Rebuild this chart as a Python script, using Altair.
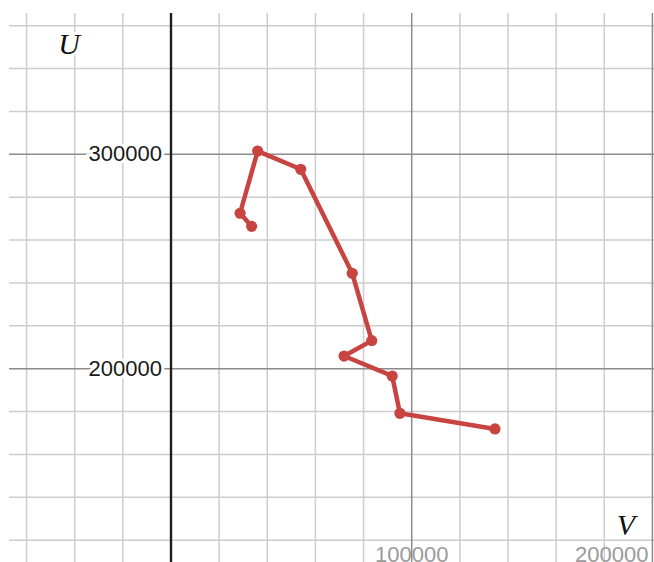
import altair as alt
import pandas as pd

# Path of (V, U) states, in the order they are visited
v_values = [33500, 28700, 36000, 53900, 75300, 83400, 71900, 91900, 95100, 134600]
u_values = [266400, 272500, 301500, 293000, 244500, 213100, 205900, 196600, 179200, 171900]

# Grid spacing: minor every 20000, major every 100000
v_minor = [-60000, -40000, -20000, 20000, 40000, 60000, 80000, 120000, 140000, 160000, 180000]
u_minor = [120000, 140000, 160000, 180000, 220000, 240000, 260000, 280000, 320000, 340000, 360000]
v_major = [100000, 200000]
u_major = [200000, 300000]

# Tick labels
u_tick_labels = ["300000", "200000"]
u_tick_values = [300000, 200000]
v_tick_labels = ["100000", "200000"]
v_tick_values = [100000, 200000]

V_DOMAIN = [-67300, 200660]
U_DOMAIN = [109840, 365900]
W, H = 645, 549

xs = alt.Scale(domain=V_DOMAIN, nice=False, zero=False)
ys = alt.Scale(domain=U_DOMAIN, nice=False, zero=False)
NUM_FONT = "Liberation Sans"
VAR_FONT = "Liberation Serif"

path = pd.DataFrame({"V": v_values, "U": u_values, "step": list(range(len(v_values)))})


def vrules(vals, color, width):
    return alt.Chart(pd.DataFrame({"V": vals})).mark_rule(color=color, strokeWidth=width).encode(
        x=alt.X("V:Q", scale=xs, axis=None)
    )


def hrules(vals, color, width):
    return alt.Chart(pd.DataFrame({"U": vals})).mark_rule(color=color, strokeWidth=width).encode(
        y=alt.Y("U:Q", scale=ys, axis=None)
    )


grid = (
    vrules(v_minor, "#cdcdcd", 1.5)
    + hrules(u_minor, "#cdcdcd", 1.5)
    + vrules(v_major, "#8c8c8c", 1.5)
    + hrules(u_major, "#8c8c8c", 1.5)
)

axis_line = vrules([0], "#1e1e1e", 2.4)

# U tick labels to the left of the V = 0 axis, with a white halo
u_lab = pd.DataFrame({"U": u_tick_values, "label": u_tick_labels, "V": [0, 0]})
u_halo = alt.Chart(u_lab).mark_text(
    align="right", baseline="middle", dx=-9, font=NUM_FONT, fontSize=22,
    color="white", stroke="white", strokeWidth=6
).encode(x=alt.X("V:Q", scale=xs, axis=None), y=alt.Y("U:Q", scale=ys, axis=None), text="label:N")
u_text = alt.Chart(u_lab).mark_text(
    align="right", baseline="middle", dx=-9, font=NUM_FONT, fontSize=22, color="#1a1a1a"
).encode(x=alt.X("V:Q", scale=xs, axis=None), y=alt.Y("U:Q", scale=ys, axis=None), text="label:N")

# V tick labels along the bottom edge, in grey
v_lab = pd.DataFrame({"V": v_tick_values, "label": v_tick_labels})
v_text_mid = alt.Chart(v_lab.iloc[[0]]).mark_text(
    align="center", baseline="alphabetic", font=NUM_FONT, fontSize=22, color="#9a9a9a"
).encode(x=alt.X("V:Q", scale=xs, axis=None), y=alt.value(H), text="label:N")
v_text_edge = alt.Chart(v_lab.iloc[[1]]).mark_text(
    align="right", baseline="alphabetic", dx=-4, font=NUM_FONT, fontSize=22, color="#9a9a9a"
).encode(x=alt.X("V:Q", scale=xs, axis=None), y=alt.value(H), text="label:N")


def var_label(name, px, py):
    df = pd.DataFrame({"name": [name]})
    halo = alt.Chart(df).mark_text(
        align="center", baseline="alphabetic", font=VAR_FONT, fontStyle="italic", fontSize=30,
        color="white", stroke="white", strokeWidth=6
    ).encode(x=alt.value(px), y=alt.value(py), text="name:N")
    txt = alt.Chart(df).mark_text(
        align="center", baseline="alphabetic", font=VAR_FONT, fontStyle="italic", fontSize=30,
        color="#111111"
    ).encode(x=alt.value(px), y=alt.value(py), text="name:N")
    return halo + txt


line = alt.Chart(path).mark_line(color="#c74440", strokeWidth=4.5).encode(
    x=alt.X("V:Q", scale=xs, axis=None),
    y=alt.Y("U:Q", scale=ys, axis=None),
    order="step:Q",
)
dots = alt.Chart(path).mark_circle(color="#c74440", size=125, opacity=1).encode(
    x=alt.X("V:Q", scale=xs, axis=None),
    y=alt.Y("U:Q", scale=ys, axis=None),
)

chart = (
    alt.layer(
        grid,
        axis_line,
        u_halo,
        u_text,
        v_text_mid,
        v_text_edge,
        var_label("U", 60, 41),
        var_label("V", 617, 522),
        line,
        dots,
    )
    .properties(
        width=W,
        height=H,
        autosize="none",
        padding={"left": 9, "top": 13, "right": 0, "bottom": 0},
        background="white",
    )
    .configure_view(stroke=None)
)

chart.save("out.html", embed_options={"renderer": "svg", "actions": False})
